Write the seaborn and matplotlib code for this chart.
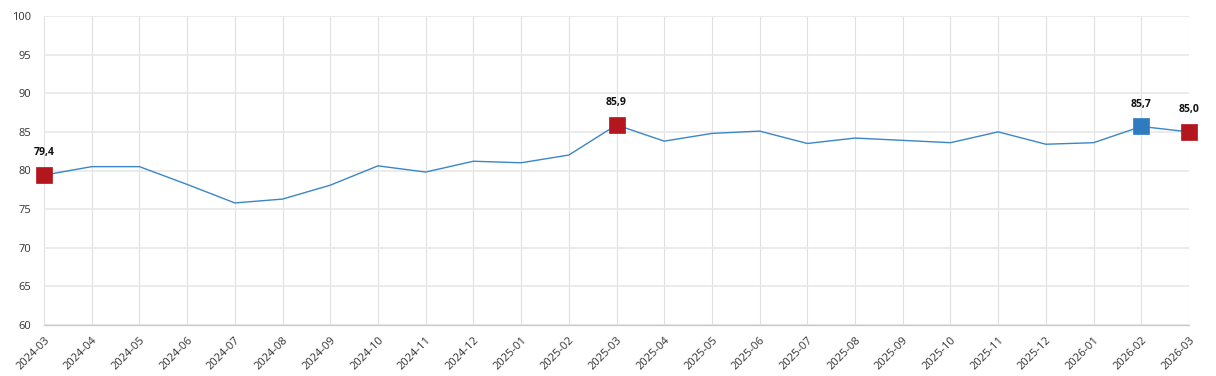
import pandas as pd
import seaborn as sns
import matplotlib.pyplot as plt

months = [
    "2024-03", "2024-04", "2024-05", "2024-06", "2024-07", "2024-08", "2024-09",
    "2024-10", "2024-11", "2024-12", "2025-01", "2025-02", "2025-03", "2025-04",
    "2025-05", "2025-06", "2025-07", "2025-08", "2025-09", "2025-10", "2025-11",
    "2025-12", "2026-01", "2026-02", "2026-03",
]
values = [
    79.4, 80.5, 80.5, 78.2, 75.8, 76.3, 78.1,
    80.6, 79.8, 81.2, 81.0, 82.0, 85.9, 83.8,
    84.8, 85.1, 83.5, 84.2, 83.9, 83.6, 85.0,
    83.4, 83.6, 85.7, 85.0,
]
# highlighted points: red = same month of each year, blue = previous month
red_months = ["2024-03", "2025-03", "2026-03"]
blue_months = ["2026-02"]
yticks = [60, 65, 70, 75, 80, 85, 90, 95, 100]

df = pd.DataFrame({"month": months, "value": values})
df["pos"] = range(len(df))

sns.set_theme(style="white")
plt.rcParams["font.family"] = ["Open Sans", "DejaVu Sans"]

fig = plt.figure(figsize=(12.16, 3.76), dpi=100)
ax = fig.add_axes([44 / 1216, 1 - 325 / 376, (1189 - 44) / 1216, (325 - 16) / 376])

sns.lineplot(data=df, x="pos", y="value", color="#3a86c8", linewidth=1.0, ax=ax)

red = df[df["month"].isin(red_months)]
blue = df[df["month"].isin(blue_months)]
sns.scatterplot(data=red, x="pos", y="value", marker="s", s=130, color="#b3161d",
                edgecolor="#b3161d", linewidth=0.5, ax=ax, zorder=5, clip_on=False)
sns.scatterplot(data=blue, x="pos", y="value", marker="s", s=130, color="#2f7bbf",
                edgecolor="#2f7bbf", linewidth=0.5, ax=ax, zorder=5, clip_on=False)

for _, row in pd.concat([red, blue]).iterrows():
    ax.annotate(f"{row['value']:.1f}".replace(".", ","), (row["pos"], row["value"]),
                xytext=(0, 12), textcoords="offset points", ha="center", va="bottom",
                fontsize=7.5, fontweight="bold", color="#111111")

ax.set_xlim(0, len(months) - 1)
ax.set_ylim(60, 100)
ax.set_xticks(df["pos"])
ax.set_xticklabels(months, rotation=45, ha="right", rotation_mode="anchor",
                   fontsize=8, color="#333333")
ax.set_yticks(yticks)
ax.set_yticklabels([str(t) for t in yticks], fontsize=8, color="#333333")

ax.grid(axis="x", color="#e0e0e0", linewidth=0.8)
ax.grid(axis="y", color="#e8e8e8", linewidth=1.2)
ax.set_axisbelow(True)
ax.tick_params(axis="x", length=5, width=0.8, color="#d5d5d5", pad=2)
ax.tick_params(axis="y", length=5, width=0.8, color="#e8e8e8", pad=4)
for side in ["top", "right", "left"]:
    ax.spines[side].set_visible(False)
ax.spines["bottom"].set_color("#cccccc")
ax.spines["bottom"].set_linewidth(1.0)
ax.set_xlabel("")
ax.set_ylabel("")

plt.savefig("out.png", dpi=100)
